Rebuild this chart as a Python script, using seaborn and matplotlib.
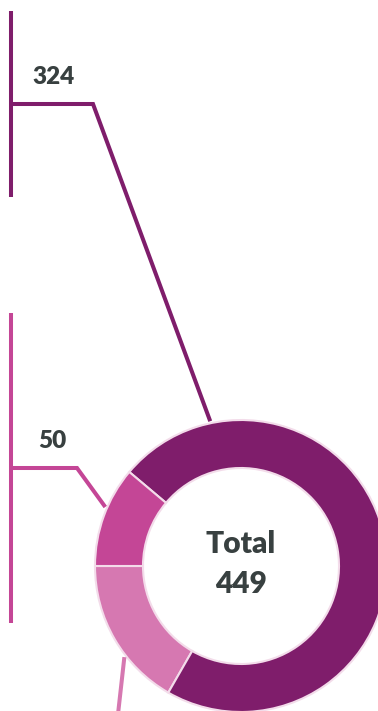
import matplotlib
matplotlib.use("Agg")
import matplotlib.pyplot as plt
import seaborn as sns
import numpy as np

sns.set_theme(style="white")
plt.rcParams['font.family'] = ['Lato', 'DejaVu Sans']

# Data
categories = ["Light", "Dark", "Medium"]
values = [75, 324, 50]
colors = ["#D678B1", "#7F1D6B", "#C44696"]
total = sum(values)

W, H = 378, 711
fig = plt.figure(figsize=(W / 100, H / 100), dpi=100)
ax = fig.add_axes([0, 0, 1, 1])

cx, cy = 241, H - 566
R, r_in = 146, 98

ax.pie(values, colors=colors, startangle=180, counterclock=True,
       center=(cx, cy), radius=R, frame=True,
       wedgeprops=dict(width=R - r_in, edgecolor="#F3DCEA", linewidth=1.5))
ax.set_xlim(0, W)
ax.set_ylim(0, H)
ax.axis("off")
ax.set_aspect("equal")

txt_color = "#384040"
ax.text(cx, H - 544, "Total", ha="center", va="center", fontsize=21.5,
        fontweight="heavy", color=txt_color)
ax.text(cx, H - 584, str(total), ha="center", va="center", fontsize=21.5,
        fontweight="heavy", color=txt_color)

def edge_pt(angle_deg, rad=R + 2):
    a = np.deg2rad(angle_deg)
    return cx + rad * np.cos(a), cy + rad * np.sin(a)

lw = 2.9
# 324 leader
c = colors[1]
ax.plot([11, 11], [H - 11, H - 197], color=c, lw=lw, solid_capstyle="butt")
ex, ey = edge_pt(102)
ax.plot([11, 93, ex], [H - 104, H - 104, ey], color=c, lw=lw,
        solid_joinstyle="miter", solid_capstyle="butt")
ax.text(54, H - 77, str(values[1]), ha="center", va="center", fontsize=17.5,
        fontweight="heavy", color=txt_color)

# 50 leader
c = colors[2]
ax.plot([11, 11], [H - 313, H - 623], color=c, lw=lw, solid_capstyle="butt")
ex, ey = edge_pt(156.5)
ax.plot([11, 77, ex], [H - 468, H - 468, ey], color=c, lw=lw,
        solid_joinstyle="miter", solid_capstyle="butt")
ax.text(52, H - 441, str(values[2]), ha="center", va="center", fontsize=17.5,
        fontweight="heavy", color=txt_color)

# 75 leader (label off-canvas)
c = colors[0]
ex, ey = edge_pt(218)
ax.plot([ex, 115], [ey, -30], color=c, lw=lw, solid_capstyle="butt")

fig.savefig("out.png", dpi=100)
